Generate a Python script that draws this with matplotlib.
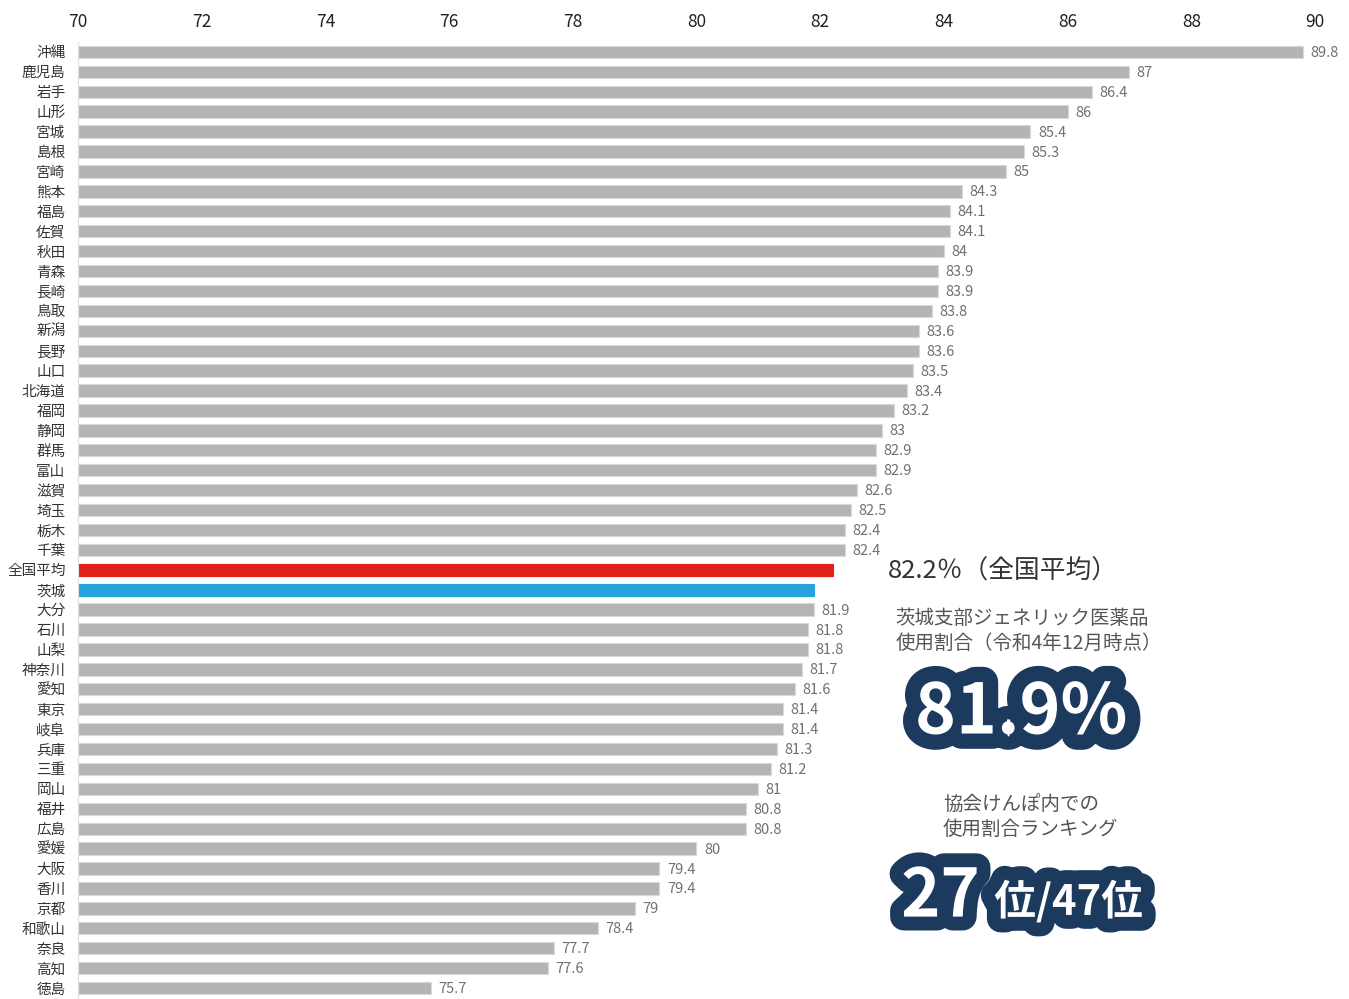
import matplotlib
matplotlib.use("Agg")
import matplotlib.pyplot as plt
import matplotlib.patheffects as pe

plt.rcParams["font.family"] = ["Noto Sans CJK JP", "DejaVu Sans"]

prefectures = [
    "沖縄", "鹿児島", "岩手", "山形", "宮城", "島根", "宮崎", "熊本", "福島", "佐賀",
    "秋田", "青森", "長崎", "鳥取", "新潟", "長野", "山口", "北海道", "福岡", "静岡",
    "群馬", "富山", "滋賀", "埼玉", "栃木", "千葉", "全国平均", "茨城", "大分", "石川",
    "山梨", "神奈川", "愛知", "東京", "岐阜", "兵庫", "三重", "岡山", "福井", "広島",
    "愛媛", "大阪", "香川", "京都", "和歌山", "奈良", "高知", "徳島",
]
values = [
    89.8, 87, 86.4, 86, 85.4, 85.3, 85, 84.3, 84.1, 84.1,
    84, 83.9, 83.9, 83.8, 83.6, 83.6, 83.5, 83.4, 83.2, 83,
    82.9, 82.9, 82.6, 82.5, 82.4, 82.4, 82.2, 81.9, 81.9, 81.8,
    81.8, 81.7, 81.6, 81.4, 81.4, 81.3, 81.2, 81, 80.8, 80.8,
    80, 79.4, 79.4, 79, 78.4, 77.7, 77.6, 75.7,
]
no_label = {"全国平均", "茨城"}
highlight = {"全国平均": "#e3211c", "茨城": "#26a3dc"}
x_ticks = [70, 72, 74, 76, 78, 80, 82, 84, 86, 88, 90]

fig = plt.figure(figsize=(13.49, 9.99), dpi=100)
ax = fig.add_axes([0.0578, 0.001, 0.917, 0.957])

ypos = list(range(len(prefectures)))
colors = [highlight.get(p, "#b4b4b4") for p in prefectures]
edges = [highlight.get(p, "#d9d9d9") for p in prefectures]
ax.barh(ypos, [v - 70 for v in values], left=70, height=0.62,
        color=colors, edgecolor=edges, linewidth=0.8)

for y, p, v in zip(ypos, prefectures, values):
    if p in no_label:
        continue
    ax.text(v + 0.12, y + 0.05, f"{v:g}", va="center", ha="left",
            fontsize=10.5, color="#707070")

ax.set_xlim(70, 90)
ax.set_ylim(len(prefectures) - 0.5, -0.5)
ax.set_yticks(ypos)
ax.set_yticklabels(prefectures, fontsize=10.5, color="#333333")
ax.set_xticks(x_ticks)
ax.xaxis.tick_top()
ax.tick_params(axis="x", length=0, labelsize=12.5, colors="#222222", pad=8)
ax.tick_params(axis="y", length=0, pad=9)
for s in ["top", "right", "bottom"]:
    ax.spines[s].set_visible(False)
ax.spines["left"].set_color("#e0e0e0")

fig.text(0.658, 0.428, "82.2％（全国平均）", fontsize=18.5, color="#333333",
         va="center", ha="left")
fig.text(0.664, 0.368, "茨城支部ジェネリック医薬品\n使用割合（令和4年12月時点）",
         fontsize=14, color="#555555", va="center", ha="left", linespacing=1.25)

navy = "#1b3a5e"
fig.text(0.757, 0.286, "81.9%", fontsize=50, fontweight="bold", color="white",
         va="center", ha="center",
         path_effects=[pe.withStroke(linewidth=22, foreground=navy)])
fig.text(0.699, 0.182, "協会けんぽ内での\n使用割合ランキング",
         fontsize=14, color="#555555", va="center", ha="left", linespacing=1.25)
fig.text(0.668, 0.102, "27", fontsize=48, fontweight="bold", color="white",
         va="center", ha="left",
         path_effects=[pe.withStroke(linewidth=20, foreground=navy)])
fig.text(0.737, 0.097, "位/47位", fontsize=30, fontweight="bold", color="white",
         va="center", ha="left",
         path_effects=[pe.withStroke(linewidth=20, foreground=navy)])

fig.savefig("out.png", dpi=100, facecolor="white")
